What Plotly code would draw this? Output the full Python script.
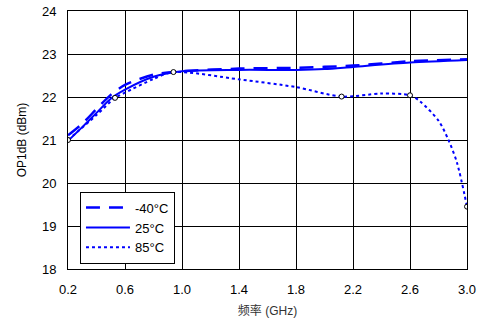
import plotly.graph_objects as go

# Frequency sweep (GHz) and OP1dB (dBm) per temperature
freq_m40 = [0.2, 0.3, 0.4, 0.5, 0.6, 0.8, 1.0, 1.4, 1.8, 2.2, 2.6, 3.0]
op1db_m40 = [21.11, 21.38, 21.72, 22.05, 22.28, 22.52, 22.6, 22.66, 22.68, 22.73, 22.83, 22.88]

freq_25 = [0.2, 0.3, 0.4, 0.5, 0.6, 0.8, 1.0, 1.4, 1.8, 2.0, 2.2, 2.6, 3.0]
op1db_25 = [20.98, 21.3, 21.63, 21.96, 22.17, 22.47, 22.6, 22.63, 22.63, 22.65, 22.7, 22.8, 22.86]

freq_85 = [0.2, 0.4, 0.53, 0.6, 0.8, 0.94, 1.4, 1.8, 2.12, 2.4, 2.6, 2.67, 2.8, 2.87, 2.93, 3.0]
op1db_85 = [21.0, 21.58, 21.98, 22.1, 22.42, 22.58, 22.41, 22.23, 22.01, 22.08, 22.04,
            21.9, 21.45, 21.0, 20.47, 19.45]

# measured points marked on the 85°C curve
freq_85_pts = [0.2, 0.53, 0.94, 2.12, 2.6, 3.0]
op1db_85_pts = [21.0, 21.98, 22.58, 22.01, 22.04, 19.45]

legend_names = ["-40°C", "25°C", "85°C"]
x_ticks = [0.2, 0.6, 1.0, 1.4, 1.8, 2.2, 2.6, 3.0]
y_ticks = [18, 19, 20, 21, 22, 23, 24]

blue = "#0000FF"
fig = go.Figure()
fig.add_trace(go.Scatter(
    x=freq_m40, y=op1db_m40, name=legend_names[0], mode="lines",
    line=dict(color=blue, width=2.5, dash="14px,9px", shape="spline", smoothing=0.8),
))
fig.add_trace(go.Scatter(
    x=freq_25, y=op1db_25, name=legend_names[1], mode="lines",
    line=dict(color=blue, width=2, shape="spline", smoothing=0.8),
))
fig.add_trace(go.Scatter(
    x=freq_85, y=op1db_85, name=legend_names[2], mode="lines",
    line=dict(color=blue, width=2, dash="3px,3px", shape="spline", smoothing=0.8),
))
fig.add_trace(go.Scatter(
    x=freq_85_pts, y=op1db_85_pts, mode="markers", showlegend=False,
    marker=dict(symbol="circle", size=5, color="#FFFFFF",
                line=dict(width=1, color="#000000")),
))

axis_common = dict(
    showgrid=True, gridcolor="#000000", gridwidth=1,
    showline=True, linecolor="#000000", linewidth=1, mirror=True,
    zeroline=False, ticks="", automargin=False,
    tickfont=dict(size=13, color="#000000"),
)
fig.update_layout(
    width=478, height=322,
    margin=dict(l=68, r=11, t=11, b=53),
    plot_bgcolor="#FFFFFF", paper_bgcolor="#FFFFFF",
    font=dict(family="Liberation Sans, Arial, sans-serif", color="#000000"),
    xaxis=dict(range=[0.2, 3.0], tickvals=x_ticks,
               ticktext=[f"{v:.1f}" for v in x_ticks],
               title=dict(text="频率 (GHz)", font=dict(size=12, color="#333333",
                          family="Liberation Sans, Noto Sans CJK SC, sans-serif"),
                          standoff=11),
               **axis_common),
    yaxis=dict(range=[18, 24], tickvals=y_ticks,
               title=dict(text="OP1dB (dBm)", font=dict(size=12), standoff=12),
               **axis_common),
    legend=dict(x=0.03, y=0.30, xanchor="left", yanchor="top",
                bgcolor="#FFFFFF", bordercolor="#000000", borderwidth=1,
                font=dict(size=13, color="#000000"), tracegroupgap=0,
                itemwidth=44, entrywidth=92, entrywidthmode="pixels"),
    showlegend=True,
)
fig.update_xaxes(ticklabelstandoff=8)
fig.update_yaxes(ticklabelstandoff=8)

fig.write_html("out.html")
